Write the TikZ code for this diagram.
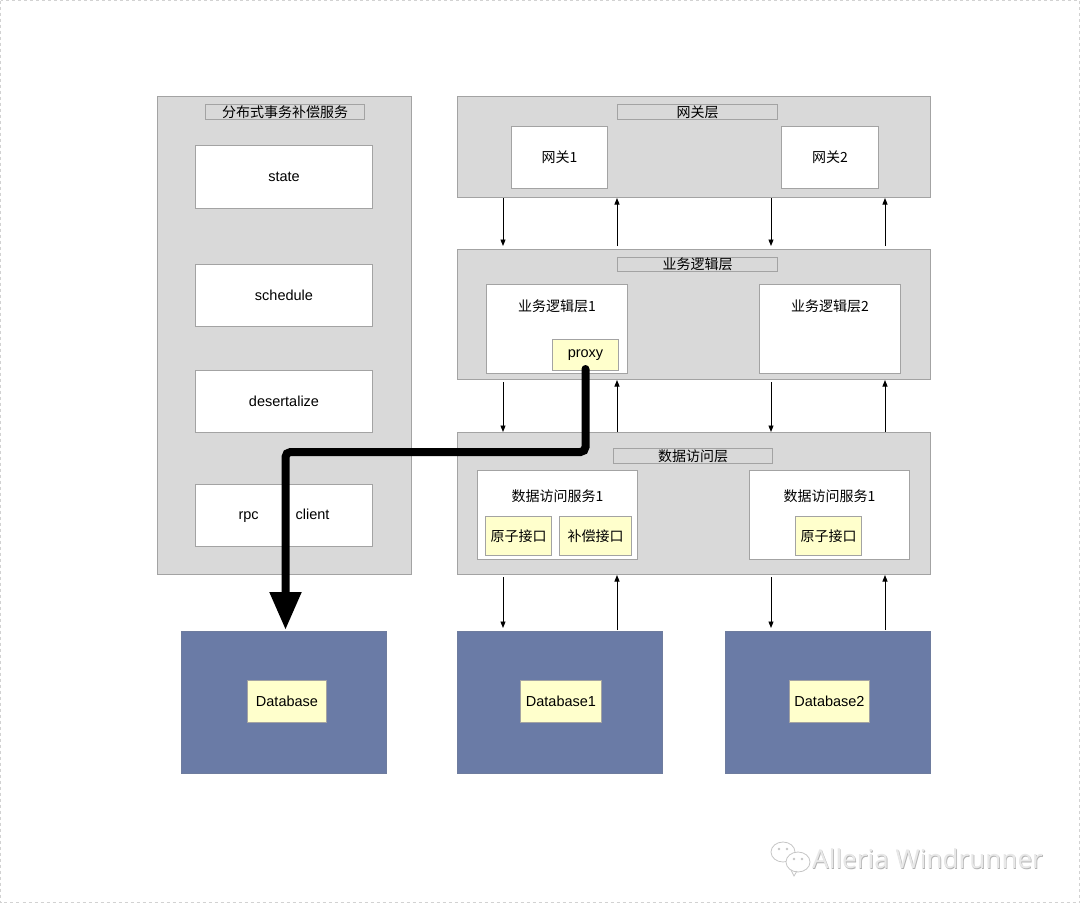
\documentclass[tikz,border=0pt]{standalone}
\usepackage{fontspec}
\setmainfont{Liberation Sans}
\newfontfamily\cjk{Noto Sans CJK SC}
\newfontfamily\wmfont{Noto Sans}
\usetikzlibrary{arrows.meta,calc}
\definecolor{panelgray}{HTML}{D9D9D9}
\definecolor{bordergray}{HTML}{A3A3A3}
\definecolor{dbblue}{HTML}{6A7BA6}
\definecolor{paleyellow}{HTML}{FFFFCC}
\tikzset{
  panel/.style={draw=bordergray, fill=panelgray, line width=1pt, inner sep=0pt, anchor=north west},
  titlebox/.style={draw=bordergray, fill=panelgray, line width=1pt, inner sep=0pt, anchor=north west, font=\cjk\fontsize{14}{15}\selectfont},
  whitebox/.style={draw=bordergray, fill=white, line width=1pt, inner sep=0pt, anchor=north west, font=\fontsize{14.5}{16}\selectfont},
  cjkbox/.style={whitebox, font=\cjk\fontsize{14}{16}\selectfont},
  ybox/.style={draw=bordergray, fill=paleyellow, line width=1pt, inner sep=0pt, anchor=north west, font=\fontsize{14.5}{16}\selectfont},
  cjkybox/.style={ybox, font=\cjk\fontsize{14}{17}\selectfont},
  dbbox/.style={draw=dbblue!80!gray, fill=dbblue, line width=1pt, inner sep=0pt, anchor=north west},
  label/.style={inner sep=0pt, font=\cjk\fontsize{14}{16}\selectfont},
  flow/.style={draw=black, line width=0.9pt, -{Triangle[length=6.5pt,width=5pt]}},
  bigflow/.style={draw=black, line width=8pt, line cap=round, rounded corners=5pt, -{Triangle[length=38pt,width=30pt]}},
}
\begin{document}
\begin{tikzpicture}[x=1pt,y=-1pt]
\useasboundingbox (0,0) rectangle (1080,903);
\draw[gray!35, dashed, line width=1pt] (0.5,0.5) rectangle (1079.5,902.5);

% left panel
\node[panel, minimum width=254pt, minimum height=478pt] (lp) at (157,96) {};
\node[titlebox, minimum width=159pt, minimum height=15pt] (lpt) at (205,104) {分布式事务补偿服务};
\node[whitebox, minimum width=177pt, minimum height=63pt] (state) at (195,145) {state};
\node[whitebox, minimum width=177pt, minimum height=62pt] (sched) at (195,264) {schedule};
\node[whitebox, minimum width=177pt, minimum height=62pt] (deser) at (195,370) {desertalize};
\node[whitebox, minimum width=177pt, minimum height=62pt] (rpc) at (195,484) {rpc\hspace{37pt}client};

% gateway layer
\node[panel, minimum width=473pt, minimum height=101pt] (gwl) at (457,96) {};
\node[titlebox, minimum width=160pt, minimum height=15pt] (gwlt) at (617,104) {网关层};
\node[cjkbox, minimum width=96pt, minimum height=62pt] (gw1) at (511,126) {网关1};
\node[cjkbox, minimum width=97pt, minimum height=62pt] (gw2) at (781,126) {网关2};

% business layer
\node[panel, minimum width=473pt, minimum height=130pt] (bzl) at (457,249) {};
\node[titlebox, minimum width=160pt, minimum height=14pt] (bzlt) at (617,257) {业务逻辑层};
\node[whitebox, minimum width=141pt, minimum height=89pt] (bz1) at (486,284) {};
\node[label] (bz1t) at ([yshift=-22pt]bz1.north) {业务逻辑层1};
\node[ybox, minimum width=66pt, minimum height=31pt] (proxy) at (552,339) {proxy};
\node[whitebox, minimum width=141pt, minimum height=89pt] (bz2) at (759,284) {};
\node[label] (bz2t) at ([yshift=-22pt]bz2.north) {业务逻辑层2};

% data access layer
\node[panel, minimum width=473pt, minimum height=142pt] (dal) at (457,432) {};
\node[titlebox, minimum width=159pt, minimum height=15pt] (dalt) at (613,448) {数据访问层};
\node[whitebox, minimum width=160pt, minimum height=89pt] (ds1) at (477,470) {};
\node[label] (ds1t) at ([yshift=-26pt]ds1.north) {数据访问服务1};
\node[cjkybox, minimum width=66pt, minimum height=39pt] (atom1) at (485,516) {原子接口};
\node[cjkybox, minimum width=72pt, minimum height=39pt] (comp1) at (559,516) {补偿接口};
\node[whitebox, minimum width=160pt, minimum height=89pt] (ds2) at (749,470) {};
\node[label] (ds2t) at ([yshift=-26pt]ds2.north) {数据访问服务1};
\node[cjkybox, minimum width=66pt, minimum height=39pt] (atom2) at (795,516) {原子接口};

% databases
\node[dbbox, minimum width=205pt, minimum height=142pt] (db0) at (181,631) {};
\node[ybox, minimum width=79pt, minimum height=42pt] (db0t) at (247,680) {Database};
\node[dbbox, minimum width=205pt, minimum height=142pt] (db1) at (457,631) {};
\node[ybox, minimum width=81pt, minimum height=42pt] (db1t) at (520,680) {Database1};
\node[dbbox, minimum width=205pt, minimum height=142pt] (db2) at (725,631) {};
\node[ybox, minimum width=80pt, minimum height=42pt] (db2t) at (789,680) {Database2};

% gateway <-> business
\draw[flow, shorten >=3pt] ([xshift=46]gwl.south west) -- ([xshift=46]bzl.north west);
\draw[flow, shorten <=3pt] ([xshift=160]bzl.north west) -- ([xshift=160]gwl.south west);
\draw[flow, shorten >=3pt] ([xshift=314]gwl.south west) -- ([xshift=314]bzl.north west);
\draw[flow, shorten <=3pt] ([xshift=428]bzl.north west) -- ([xshift=428]gwl.south west);

% business <-> data
\draw[flow, shorten <=2pt] ([xshift=46]bzl.south west) -- ([xshift=46]dal.north west);
\draw[flow] ([xshift=160]dal.north west) -- ([xshift=160]bzl.south west);
\draw[flow, shorten <=2pt] ([xshift=314]bzl.south west) -- ([xshift=314]dal.north west);
\draw[flow] ([xshift=428]dal.north west) -- ([xshift=428]bzl.south west);

% data <-> databases
\draw[flow, shorten <=2pt, shorten >=3pt] ([xshift=46]dal.south west) -- ([xshift=46]db1.north west);
\draw[flow, shorten <=1pt] ([xshift=160]db1.north west) -- ([xshift=160]dal.south west);
\draw[flow, shorten <=2pt, shorten >=3pt] ([xshift=314]dal.south west) -- ([xshift=46]db2.north west);
\draw[flow, shorten <=1pt] ([xshift=160]db2.north west) -- ([xshift=428]dal.south west);

% thick proxy -> database
\coordinate (turn) at (0,452);
\draw[bigflow] ([yshift=2pt]proxy.south) |- ([xshift=1.5]db0.north |- turn) -- ([xshift=1.5,yshift=1pt]db0.north);

% watermark
\begin{scope}[draw=gray!45, line width=0.8pt]
  \draw (783,852) circle[x radius=12, y radius=10];
  \fill[white] (798,862) circle[x radius=12, y radius=10];
  \draw (798,862) circle[x radius=12, y radius=10];
  \draw (791,870) -- (794,876) -- (797,871);
  \fill[gray!45] (779,849) circle[radius=1.3] (787,849) circle[radius=1.3] (794,859) circle[radius=1.3] (802,859) circle[radius=1.3];
\end{scope}
\node[inner sep=0pt, anchor=west, text=gray!60, font=\wmfont\fontsize{26}{29}\selectfont] (wms) at (812.7,859.7) {Alleria Windrunner};
\node[inner sep=0pt, anchor=west, text=gray!18, font=\wmfont\fontsize{26}{29}\selectfont] (wm) at (812,859) {Alleria Windrunner};
\end{tikzpicture}
\end{document}
